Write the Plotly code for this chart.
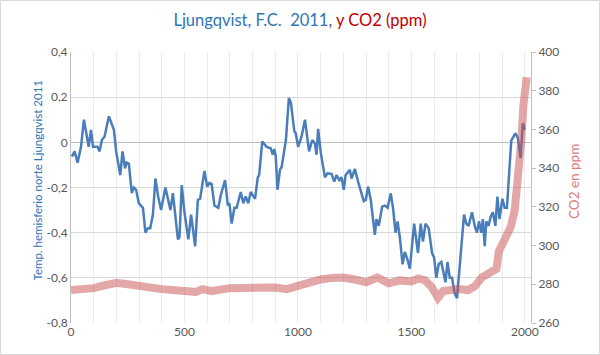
import plotly.graph_objects as go

# Temperature reconstruction (Ljungqvist 2011), NH anomaly
temp_years = [4, 16, 29, 44, 57, 78, 88, 97, 117, 126, 136, 148, 167, 189, 199, 217, 227, 238, 245, 255,
              268, 277, 287, 299, 317, 328, 339, 349, 361, 372, 384, 397, 416, 428, 438, 449, 471, 478, 488, 500,
              517, 529, 547, 559, 569, 588, 600, 610, 620, 632, 649, 661, 679, 691, 698, 708, 720, 730, 748, 759,
              770, 781, 792, 811, 823, 829, 843, 862, 880, 889, 896, 902, 910, 921, 928, 947, 960, 969, 984, 990,
              1001, 1016, 1031, 1049, 1063, 1075, 1082, 1089, 1101, 1119, 1130, 1148, 1160, 1170, 1182, 1192, 1202, 1210, 1229, 1236,
              1251, 1265, 1290, 1299, 1309, 1321, 1339, 1346, 1356, 1371, 1383, 1395, 1409, 1419, 1430, 1439, 1449, 1461, 1471, 1483,
              1493, 1512, 1529, 1541, 1551, 1562, 1576, 1591, 1600, 1610, 1620, 1632, 1639, 1650, 1659, 1669, 1679, 1691, 1701, 1717,
              1732, 1742, 1752, 1767, 1779, 1789, 1798, 1808, 1815, 1823, 1830, 1840, 1849, 1859, 1870, 1879, 1888, 1901, 1911, 1921,
              1940, 1958, 1969, 1981, 1991, 1999]
temp_values = [-0.063, -0.04, -0.09, -0.02, 0.10, -0.02, 0.055, -0.02, -0.02, -0.04, 0.01, 0.026, 0.115, 0.055, -0.04, -0.145, -0.04, -0.115, -0.09, -0.095,
               -0.225, -0.20, -0.21, -0.27, -0.29, -0.40, -0.38, -0.38, -0.32, -0.16, -0.24, -0.30, -0.20, -0.25, -0.30, -0.225, -0.43, -0.42, -0.19, -0.31,
               -0.43, -0.32, -0.46, -0.255, -0.25, -0.127, -0.196, -0.18, -0.185, -0.28, -0.29, -0.23, -0.167, -0.28, -0.27, -0.36, -0.29, -0.29, -0.22, -0.27,
               -0.24, -0.27, -0.22, -0.25, -0.155, -0.145, 0.004, -0.02, -0.026, -0.055, -0.03, -0.06, -0.21, -0.12, -0.11, 0.01, 0.196, 0.175, 0.05, 0.04,
               -0.02, 0.026, 0.10, -0.04, 0.01, -0.005, -0.055, 0.06, -0.048, -0.155, -0.137, -0.14, -0.174, -0.145, -0.167, -0.155, -0.21, -0.145, -0.122, -0.16,
               -0.118, -0.174, -0.26, -0.255, -0.196, -0.255, -0.41, -0.34, -0.37, -0.285, -0.28, -0.29, -0.226, -0.29, -0.40, -0.35, -0.42, -0.54, -0.485, -0.52,
               -0.56, -0.36, -0.49, -0.36, -0.44, -0.36, -0.38, -0.49, -0.51, -0.60, -0.54, -0.53, -0.57, -0.62, -0.53, -0.60, -0.60, -0.67, -0.69, -0.49,
               -0.32, -0.36, -0.37, -0.31, -0.37, -0.40, -0.35, -0.40, -0.34, -0.46, -0.35, -0.37, -0.33, -0.31, -0.37, -0.24, -0.34, -0.25, -0.29, -0.29,
               0.008, 0.04, 0.02, -0.07, 0.085, 0.055]

# CO2 concentration (ppm)
co2_years = [0, 50, 100, 150, 200, 250, 300, 400, 500, 550, 580, 620, 700, 800, 900, 950, 1000, 1050, 1100, 1150,
             1200, 1250, 1300, 1350, 1400, 1450, 1500, 1530, 1560, 1590, 1617, 1640, 1680, 1705, 1750, 1780, 1810, 1845, 1875, 1885,
             1911, 1937, 1955, 1969, 1984, 1994, 2008]
co2_values = [277, 277.3, 278, 279.5, 280.8, 280, 279, 277.5, 276.5, 276, 277.5, 276.5, 278, 278.5, 278.3, 277.5, 279.5, 280.5, 282.5, 283.3,
              283.5, 282.5, 281, 283.5, 280.5, 282, 281.5, 283, 282, 278.5, 273, 276.5, 277.5, 277.5, 277, 279, 283.5, 286, 288, 297,
              302.5, 309.4, 318, 332, 354, 373, 387]

x_tickvals = [0, 500, 1000, 1500, 2000]
x_ticktext = ["0", "500", "1000", "1500", "2000"]
y_tickvals = [-0.8, -0.6, -0.4, -0.2, 0, 0.2, 0.4]
y_ticktext = ["-0,8", "-0,6", "-0,4", "-0,2", "0", "0,2", "0,4"]
y2_tickvals = [260, 280, 300, 320, 340, 360, 380, 400]

FONT = "Lato, 'Open Sans', sans-serif"
GRAY = "#595959"

fig = go.Figure()
fig.add_trace(go.Scatter(x=temp_years, y=temp_values, mode="lines",
                         line=dict(color="#4A7EBB", width=2.5), yaxis="y", showlegend=False))
fig.add_trace(go.Scatter(x=co2_years, y=co2_values, mode="lines",
                         line=dict(color="rgba(200,80,80,0.5)", width=8), yaxis="y2", showlegend=False))

fig.update_layout(
    width=600, height=355,
    margin=dict(l=71, r=69, t=52, b=32),
    paper_bgcolor="white", plot_bgcolor="white",
    font=dict(family=FONT, size=12, color=GRAY),
    title=dict(
        text="<span style='color:#2E75B6'>Ljungqvist, F.C.&nbsp;&nbsp;2011</span>"
             "<span style='color:#595959'>, </span>"
             "<span style='color:#C00000'>y CO2 (ppm)</span>",
        x=0.5, xref="container", xanchor="center",
        y=1 - 20 / 355, yref="container", yanchor="middle",
        font=dict(family=FONT, size=16.5)),
    xaxis=dict(range=[0, 2027], tickvals=x_tickvals, ticktext=x_ticktext,
               showgrid=True, gridcolor="#EBEBEB", gridwidth=1,
               minor=dict(dtick=100, tick0=0, showgrid=True, gridcolor="#EBEBEB", gridwidth=1),
               zeroline=False, showline=False, ticks="",
               tickfont=dict(size=12, color=GRAY)),
    yaxis=dict(range=[-0.8, 0.4], tickvals=y_tickvals, ticktext=y_ticktext,
               showgrid=True, gridcolor="#D9D9D9", gridwidth=1,
               zeroline=True, zerolinecolor="#BFBFBF", zerolinewidth=1,
               showline=True, linecolor="#BFBFBF", linewidth=1, ticks="",
               tickfont=dict(size=12, color=GRAY)),
    yaxis2=dict(range=[260, 400], tickvals=y2_tickvals, overlaying="y", side="right",
                showgrid=False, zeroline=False,
                showline=True, linecolor="#BFBFBF", linewidth=1,
                ticks="outside", ticklen=4, tickcolor="#BFBFBF",
                tickfont=dict(size=12, color=GRAY)),
    annotations=[
        dict(text="Temp. hemisferio norte Ljungqvist 2011", textangle=-90,
             x=(28 - 71) / 460, y=(323 - 180) / 271, xref="paper", yref="paper",
             showarrow=False, font=dict(family=FONT, size=11.5, color="#2E75B6")),
        dict(text="CO2 en ppm", textangle=-90,
             x=(584 - 71) / 460, y=(323 - 182) / 271, xref="paper", yref="paper",
             showarrow=False, font=dict(family=FONT, size=13.5, color="#E07B7B")),
    ],
    shapes=[dict(type="rect", xref="paper", yref="paper",
                 x0=(0.5 - 71) / 460, x1=(599.5 - 71) / 460,
                 y0=(323 - 354.5) / 271, y1=(323 - 0.5) / 271,
                 line=dict(color="#D9D9D9", width=1), fillcolor="rgba(0,0,0,0)", layer="below")],
)

fig.write_html("out.html",
               config={"displayModeBar": False},
               post_script="document.body.style.margin='0';document.body.style.overflow='hidden';")
